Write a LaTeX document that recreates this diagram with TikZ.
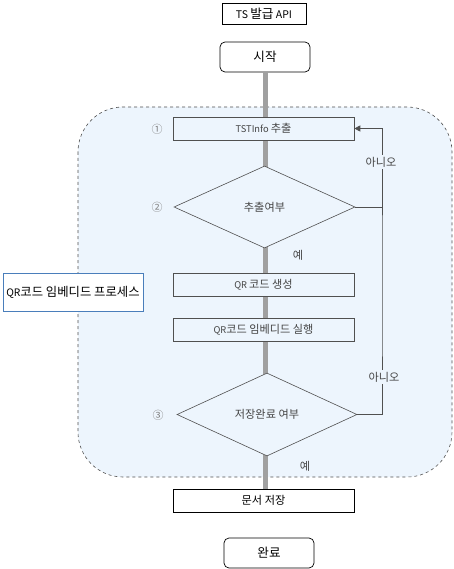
\documentclass[tikz,border=0pt]{standalone}
\usepackage{fontspec}
\setmainfont{Noto Sans CJK KR}
\newfontfamily\kr[Scale=1.2]{Noto Sans CJK KR}
\usetikzlibrary{shapes.geometric,arrows.meta}
\definecolor{regfill}{HTML}{EDF5FD}
\definecolor{edge}{HTML}{505050}
\definecolor{txt}{HTML}{444444}
\definecolor{trunkc}{HTML}{A0A0A0}
\definecolor{sideedge}{HTML}{4A7EBB}
\tikzset{
  base/.style={font=\fontsize{9.3}{11}\selectfont, text=txt, inner sep=0pt},
  stepbox/.style={base, draw=edge, fill=regfill, line width=0.6pt, minimum width=181pt, minimum height=23pt},
  termbox/.style={base, font=\fontsize{10.5}{12}\selectfont, text=black, draw=black, fill=white, line width=0.7pt, minimum width=90pt, minimum height=30pt, rounded corners=5pt},
  plainbox/.style={base, text=black, draw=black, fill=white, line width=0.7pt, minimum width=181pt, minimum height=23pt},
  decision/.style={base, diamond, draw=edge, fill=regfill, line width=0.6pt, minimum width=181pt, minimum height=82pt},
  numlab/.style={base, font=\fontsize{11}{12}\selectfont, text=gray},
  lab/.style={base},
  trunk/.style={draw=trunkc, line width=5pt},
  fb/.style={draw=edge, line width=0.7pt},
}
\begin{document}
\begin{tikzpicture}[x=1pt,y=-1pt]
\useasboundingbox (0,0) rectangle (454,569);
% region
\draw[dashed, draw=edge, fill=regfill, line width=0.6pt, rounded corners=45pt] (78,107) rectangle (452,477);
% nodes
\node[base, text=black, draw=black, fill=white, line width=0.7pt, minimum width=84pt, minimum height=21pt, font=\fontsize{10.5}{12}\selectfont] (api) at (264,13.5) {TS {\kr 발급} API};
\node[termbox] (start) at (265,57) {\kr 시작};
\coordinate (top) at (265,72);
\coordinate (bot) at (265,489);
\draw[trunk] (top) -- (bot);
\node[stepbox] (ts) at (263.5,128.5) {TSTInfo {\kr 추출}};
\node[decision] (d1) at (264.5,207) {\kr 추출여부};
\node[stepbox] (qr1) at (263.5,284.5) {QR {\kr 코드 생성}};
\node[stepbox] (qr2) at (263.5,329.5) {QR{\kr 코드 임베디드 실행}};
\node[decision, minimum width=180pt, minimum height=83pt] (d2) at (267,414.5) {\kr 저장완료 여부};
\node[plainbox] (doc) at (263.5,500.5) {\kr 문서 저장};
\node[termbox] (end) at (269,553) {\kr 완료};
\node[base, text=black, draw=sideedge, fill=white, line width=0.7pt, minimum width=140pt, minimum height=38pt, font=\fontsize{10.3}{12}\selectfont] (side) at (73,292) {QR{\kr 코드 임베디드 프로세스}};
% feedback
\coordinate (fbx) at (382,300);
\draw[fb, -{Triangle[length=6pt,width=6pt]}] (d2.east) -| (fbx) |- (ts.east);
\draw[fb] (d1.east) -- (d1.east -| fbx);
\node[lab, fill=regfill, inner sep=1.5pt] (no1) at (381,162) {\kr 아니오};
\node[lab, fill=regfill, inner sep=1.5pt] (no2) at (384,377) {\kr 아니오};
\node[lab] (yes1) at (298,255) {\kr 예};
\node[lab] (yes2) at (305,466) {\kr 예};
\node[numlab] (n1) at (157,129) {①};
\node[numlab] (n2) at (157,207) {②};
\node[numlab] (n3) at (158,415) {③};
\end{tikzpicture}
\end{document}
